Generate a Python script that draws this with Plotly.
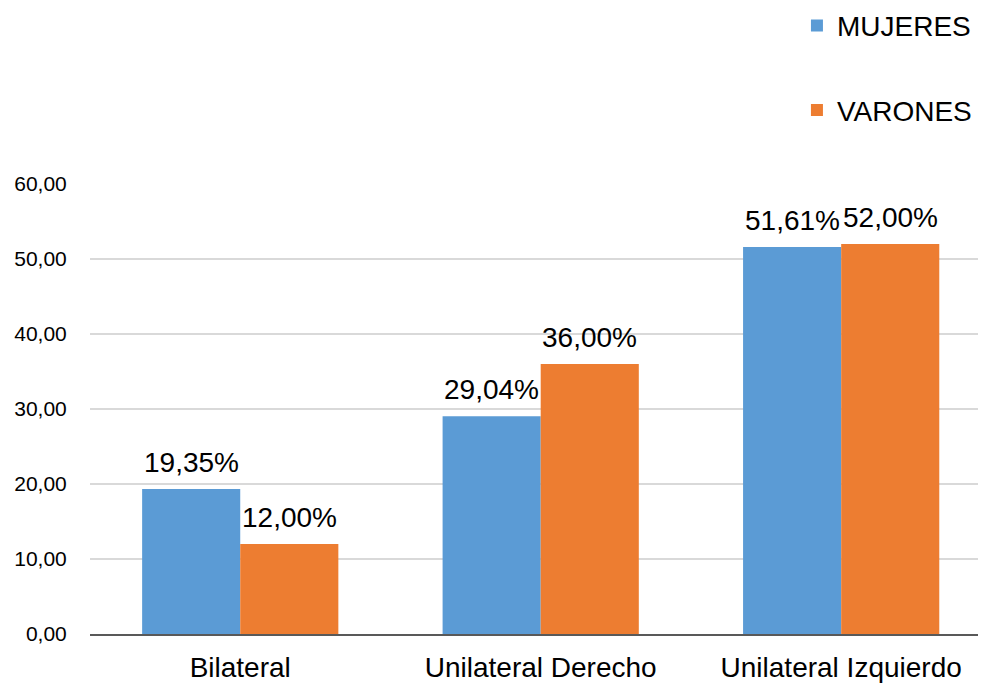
import plotly.graph_objects as go

categories = ["Bilateral", "Unilateral Derecho", "Unilateral Izquierdo"]
mujeres = [19.35, 29.04, 51.61]
varones = [12.00, 36.00, 52.00]
series_names = ["MUJERES", "VARONES"]
colors = ["#5B9BD5", "#ED7D31"]
tick_vals = [0, 10, 20, 30, 40, 50, 60]

FONT = "Liberation Sans, Arial, sans-serif"

fig = go.Figure()
for i, (name, vals) in enumerate(zip(series_names, [mujeres, varones])):
    fig.add_trace(go.Bar(
        x=categories, y=vals, name=name, marker_color=colors[i],
        marker_line_width=0, legendgroup=name,
    ))
    for c, v in zip(categories, vals):
        fig.add_annotation(
            x=c, y=v, xref="x", yref="y",
            text=f"{v:.2f}%".replace(".", ","),
            showarrow=False, yanchor="bottom", xanchor="center",
            xshift=-49 if i == 0 else 49, yshift=9,
            font=dict(size=28, color="#000000", family=FONT),
        )

fig.update_layout(
    width=978, height=678,
    margin=dict(l=82, r=0, t=176, b=52, autoexpand=False),
    paper_bgcolor="white", plot_bgcolor="white",
    separators=",.",
    barmode="group", bargap=0.347, bargroupgap=0,
    font=dict(family=FONT, color="#000000"),
    showlegend=True,
    legend=dict(
        x=0.789, xanchor="left", y=1.407, yref="paper", yanchor="top",
        font=dict(size=28, color="#000000", family=FONT),
        tracegroupgap=45, traceorder="grouped",
        itemwidth=30, bgcolor="rgba(0,0,0,0)",
    ),
    xaxis=dict(
        range=[-0.5, 2.482], showgrid=False, showline=True,
        linecolor="#595959", linewidth=1.5,
        ticks="outside", ticklen=8, tickcolor="rgba(0,0,0,0)",
        tickfont=dict(size=28, color="#000000", family=FONT),
    ),
    yaxis=dict(
        range=[0, 60], tickvals=tick_vals, tickformat=".2f",
        showgrid=True, gridcolor="#D9D9D9", gridwidth=1.5,
        zeroline=False, showline=False, ticks="outside", ticklen=18,
        tickcolor="rgba(0,0,0,0)",
        tickfont=dict(size=21, color="#000000", family=FONT),
    ),
)

fig.write_html("out.html")
